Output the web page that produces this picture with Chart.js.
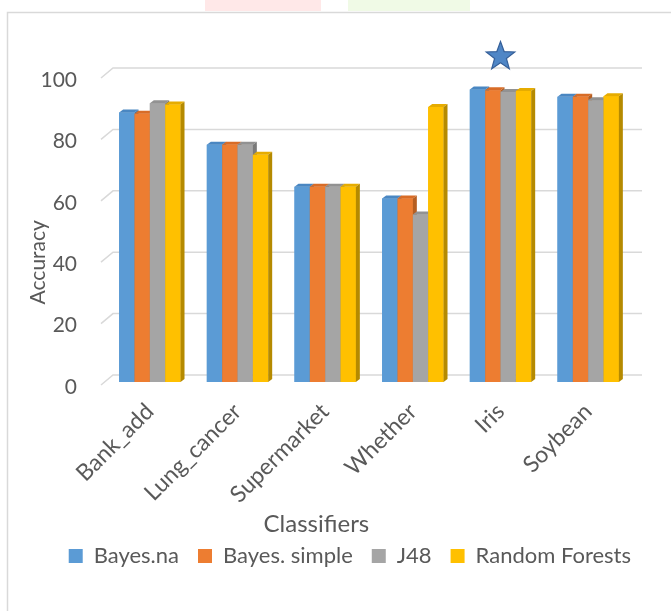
<!DOCTYPE html>
<html>
<head>
<meta charset="utf-8">
<script src="https://cdn.jsdelivr.net/npm/chart.js@4/dist/chart.umd.min.js"></script>
<style>
  html, body { margin: 0; padding: 0; background: #fff; }
  #wrap { position: relative; width: 671px; height: 611px; }
</style>
</head>
<body>
<div id="wrap"><canvas id="accChart"></canvas></div>
<script>
const categories = ["Bank_add", "Lung_cancer", "Supermarket", "Whether", "Iris", "Soybean"];
const bayesNa = [87.8, 77.3, 63.6, 59.8, 95.3, 92.9];
const bayesSimple = [87.4, 77.3, 63.6, 59.8, 95.0, 92.9];
const j48 = [90.8, 77.3, 63.6, 54.6, 94.5, 91.8];
const randomForests = [90.4, 74.0, 63.6, 89.6, 94.8, 93.1];
const yTicks = [0, 20, 40, 60, 80, 100];
const starCategory = "Iris";
const starValue = 106;

const fronts = ["#5b9bd5", "#ed7d31", "#a5a5a5", "#ffc000"];
const sides = ["#3f77ab", "#b65e21", "#7a7a7a", "#b58a00"];
const tops = ["#4a87c2", "#d86c27", "#929292", "#e6ac00"];
const textColor = "#595959";
const fontFamily = "Lato, 'Liberation Sans', sans-serif";

const DX = 4, DY = 3;       // bar depth
const WX = 8, WY = 7;       // wall depth for gridlines

const fakeThreeD = {
  id: "fakeThreeD",
  beforeDraw(chart) {
    const ctx = chart.ctx;
    ctx.save();
    // faint bits of the page behind the chart
    ctx.fillStyle = "rgba(255, 205, 205, 0.45)";
    ctx.fillRect(205, 0, 116, 11);
    ctx.fillStyle = "rgba(225, 245, 205, 0.5)";
    ctx.fillRect(348, 0, 122, 11);
    // chart frame
    ctx.strokeStyle = "#d9d9d9";
    ctx.lineWidth = 1.5;
    ctx.beginPath();
    ctx.moveTo(7.5, chart.height);
    ctx.lineTo(7.5, 12.5);
    ctx.lineTo(chart.width, 12.5);
    ctx.stroke();
    ctx.restore();
  },
  beforeDatasetsDraw(chart) {
    const ctx = chart.ctx;
    const y = chart.scales.y;
    const area = chart.chartArea;
    ctx.save();
    ctx.strokeStyle = "#d9d9d9";
    ctx.lineWidth = 1.5;
    yTicks.forEach(v => {
      const py = y.getPixelForValue(v);
      ctx.beginPath();
      ctx.moveTo(area.left - 5, py + 3);
      ctx.lineTo(area.left + 7, py - WY);
      ctx.lineTo(area.right + WX + 2, py - WY);
      ctx.stroke();
    });
    ctx.restore();
  },
  afterDatasetsDraw(chart) {
    const ctx = chart.ctx;
    const metas = chart.data.datasets.map((d, i) => chart.getDatasetMeta(i));
    ctx.save();
    categories.forEach((c, ci) => {
      metas.forEach((meta, di) => {
        const bar = meta.data[ci];
        const p = bar.getProps(["x", "y", "base", "width"], true);
        const l = p.x - p.width / 2, r = p.x + p.width / 2;
        ctx.fillStyle = fronts[di];
        ctx.fillRect(l, p.y, r - l, p.base - p.y);
        ctx.fillStyle = tops[di];
        ctx.beginPath();
        ctx.moveTo(l, p.y);
        ctx.lineTo(l + DX, p.y - DY);
        ctx.lineTo(r + DX, p.y - DY);
        ctx.lineTo(r, p.y);
        ctx.closePath();
        ctx.fill();
        ctx.fillStyle = sides[di];
        ctx.beginPath();
        ctx.moveTo(r, p.y);
        ctx.lineTo(r + DX, p.y - DY);
        ctx.lineTo(r + DX, p.base - DY);
        ctx.lineTo(r, p.base);
        ctx.closePath();
        ctx.fill();
      });
    });
    // star marker above the best data set
    const sx = chart.scales.x.getPixelForValue(categories.indexOf(starCategory));
    const sy = chart.scales.y.getPixelForValue(starValue);
    ctx.beginPath();
    for (let k = 0; k < 10; k++) {
      const rad = k % 2 === 0 ? 15 : 6.2;
      const a = -Math.PI / 2 + k * Math.PI / 5;
      ctx.lineTo(sx + rad * Math.cos(a), sy + rad * Math.sin(a));
    }
    ctx.closePath();
    ctx.fillStyle = "#4f86c6";
    ctx.fill();
    ctx.strokeStyle = "#36609a";
    ctx.lineWidth = 1.2;
    ctx.stroke();
    ctx.restore();
  },
  afterDraw(chart) {
    const ctx = chart.ctx;
    const area = chart.chartArea;
    ctx.save();
    ctx.fillStyle = textColor;
    ctx.textAlign = "center";
    ctx.textBaseline = "middle";
    ctx.font = "24px " + fontFamily;
    ctx.fillText("Classifiers", area.left + 0.4 * (area.right - area.left), area.bottom + 142);
    ctx.font = "21px " + fontFamily;
    ctx.translate(38, area.top + 0.61 * (area.bottom - area.top));
    ctx.rotate(-Math.PI / 2);
    ctx.fillText("Accuracy", 0, 0);
    ctx.restore();
  }
};

const mkSet = (label, data, i) => ({
  label: label,
  data: data,
  backgroundColor: fronts[i],
  borderWidth: 0,
  categoryPercentage: 0.7,
  barPercentage: 1.0
});

new Chart(document.getElementById("accChart"), {
  type: "bar",
  data: {
    labels: categories,
    datasets: [
      mkSet("Bayes.na", bayesNa, 0),
      mkSet("Bayes. simple", bayesSimple, 1),
      mkSet("J48", j48, 2),
      mkSet("Random Forests", randomForests, 3)
    ]
  },
  options: {
    responsive: true,
    maintainAspectRatio: false,
    animation: false,
    layout: { padding: { top: 75, right: 21, left: 0, bottom: 34 } },
    plugins: {
      tooltip: { enabled: false },
      legend: {
        position: "bottom",
        align: "end",
        labels: {
          boxWidth: 14,
          boxHeight: 14,
          padding: 19,
          color: textColor,
          font: { family: fontFamily, size: 22 }
        }
      }
    },
    scales: {
      x: {
        grid: { display: false },
        border: { display: false },
        ticks: {
          color: textColor,
          font: { family: fontFamily, size: 23 },
          maxRotation: 45,
          minRotation: 45,
          autoSkip: false,
          padding: 8
        },
        afterFit(scale) { scale.height = 144; }
      },
      y: {
        min: 0,
        max: 100,
        grid: { display: false },
        border: { display: false },
        ticks: {
          stepSize: 20,
          color: textColor,
          font: { family: fontFamily, size: 21 },
          padding: 21,
          labelOffset: 5
        },
        afterFit(scale) { scale.width = 106; }
      },
      // empty spacer on the right so the legend can sit further right than the plot
      spacer: {
        position: "right",
        min: 0,
        max: 100,
        grid: { display: false },
        border: { display: false },
        ticks: { display: false },
        afterFit(scale) { scale.width = 18; }
      }
    }
  },
  plugins: [fakeThreeD]
});
</script>
</body>
</html>
